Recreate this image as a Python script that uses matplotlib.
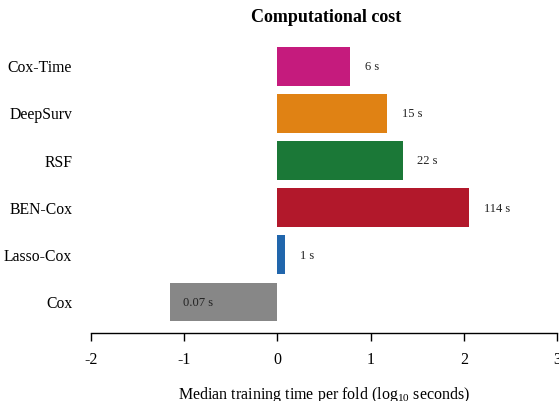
import numpy as np
import matplotlib
matplotlib.use("Agg")
import matplotlib.pyplot as plt

# Median training time per fold, in seconds
models = ["Cox", "Lasso-Cox", "BEN-Cox", "RSF", "DeepSurv", "Cox-Time"]
seconds = [0.07, 1.22, 114, 22, 15, 6]
colors = ["#878787", "#2166AC", "#B2182B", "#1B7837", "#E08214", "#C51B7D"]
xticks = [-2, -1, 0, 1, 2, 3]

plt.rcParams["font.family"] = ["Liberation Serif", "DejaVu Serif"]
plt.rcParams["mathtext.fontset"] = "custom"
plt.rcParams["mathtext.rm"] = "Liberation Serif"

fig = plt.figure(figsize=(5.59, 4.01), dpi=100)
ax = fig.add_axes([91 / 559, 1 - 333 / 401, (557 - 91) / 559, (333 - 38) / 401])

logt = np.log10(seconds)
ypos = np.arange(len(models))
ax.barh(ypos, logt, height=0.82, color=colors, edgecolor="none")


def fmt(s):
    return f"{s:.2f} s" if s < 1 else f"{s:.0f} s"


for y, v, s in zip(ypos, logt, seconds):
    if v >= 0:
        ax.text(v + 0.16, y - 0.02, fmt(s), ha="left", va="center", fontsize=9, color="#222222")
    else:
        ax.text(v + 0.14, y - 0.02, fmt(s), ha="left", va="center", fontsize=9, color="#222222")

ax.set_xlim(-2, 3)
ax.set_ylim(-0.66, 5.6)
ax.set_xticks(xticks)
ax.set_xticklabels([str(t) for t in xticks], fontsize=11.5)
ax.set_yticks(ypos)
ax.set_yticklabels(models, fontsize=11.3)
ax.tick_params(axis="y", length=0, pad=13.5)
ax.tick_params(axis="x", length=6, width=1, pad=8, direction="out")

for side in ["top", "right", "left"]:
    ax.spines[side].set_visible(False)
ax.spines["bottom"].set_linewidth(1)

ax.set_xlabel(r"Median training time per fold (log$_{10}$ seconds)", fontsize=11.5, labelpad=12)
fig.text(326 / 559, 1 - 17 / 401, "Computational cost", ha="center", va="center",
         fontsize=13, fontweight="bold")

fig.savefig("out.png", dpi=100)
